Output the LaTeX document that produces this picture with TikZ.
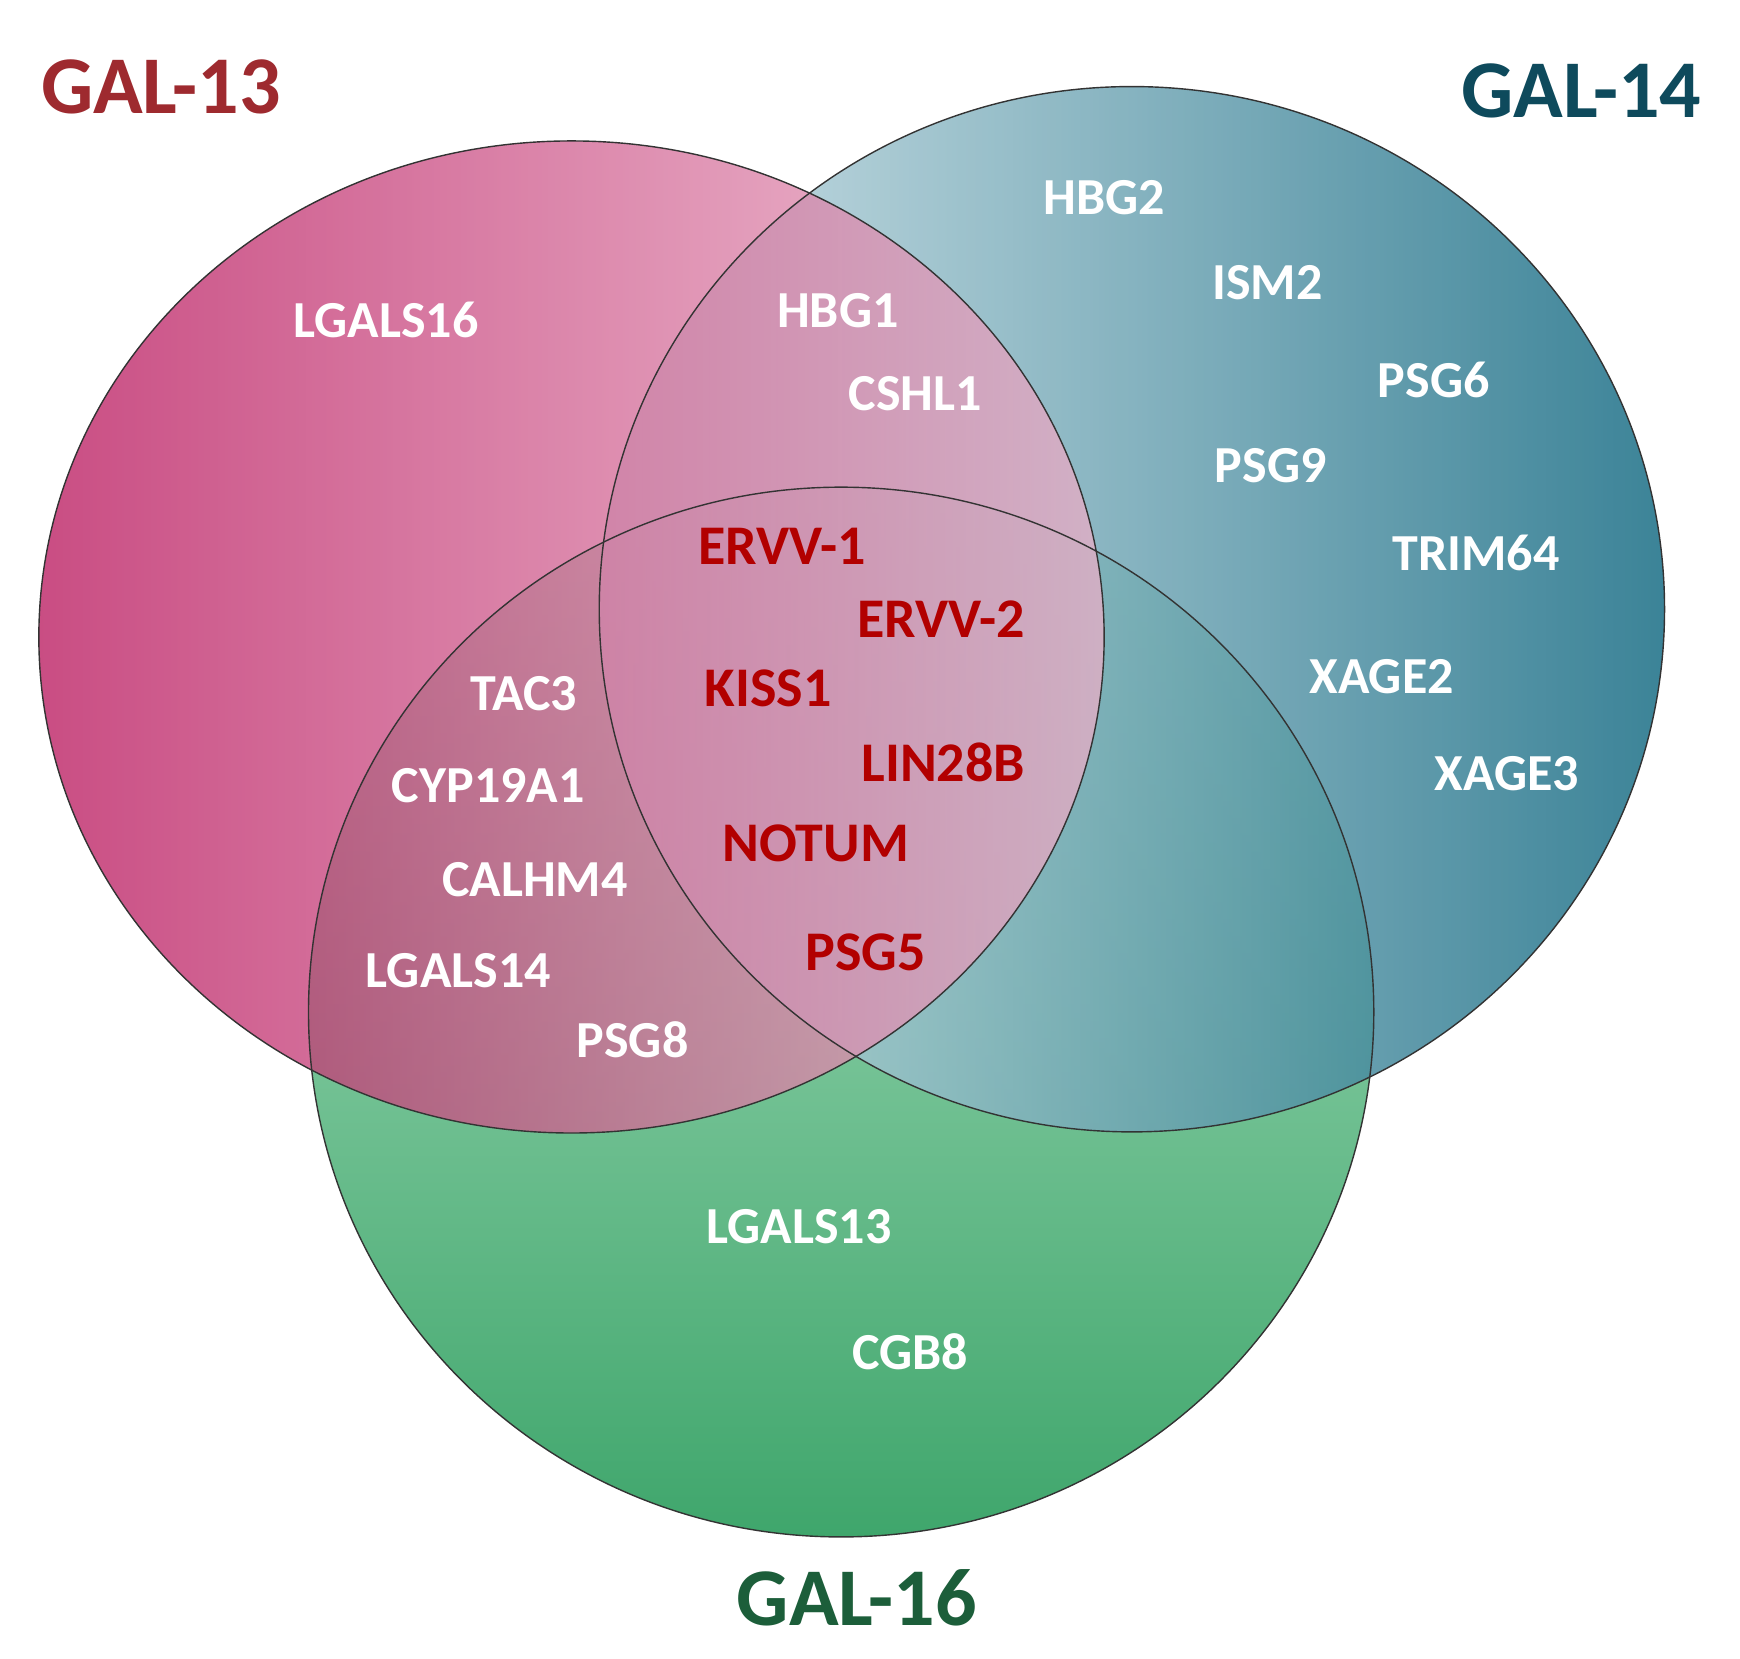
\documentclass[tikz,border=0pt]{standalone}
\usepackage{fontspec}
\setmainfont{Carlito}
\begin{document}
\begin{tikzpicture}[x=1.11pt,y=-1.11pt,
  lab/.style={font=\fontsize{52}{54}\selectfont\bfseries, text=white},
  core/.style={font=\fontsize{56}{58}\selectfont\bfseries, text=red!70!black},
  ttl/.style={font=\fontsize{82}{84}\selectfont\bfseries},
  ring/.style={draw=black!80, line width=1.4pt}]
\useasboundingbox (0,0) rectangle (1568,1495);
\fill[white] (0,0) rectangle (1568,1495);
\definecolor{magD}{HTML}{B8125A}\definecolor{magL}{HTML}{EAB0C8}
\definecolor{tealL}{HTML}{C8DEE4}\definecolor{tealD}{HTML}{1A6E86}
\definecolor{grnL}{HTML}{B4E4C6}\definecolor{grnD}{HTML}{3FA66C}
\definecolor{t13}{HTML}{9E2A2F}\definecolor{t14}{HTML}{0E4A5C}\definecolor{t16}{HTML}{1C5E3A}
% bottom
\shade[top color=grnL, bottom color=grnD] (758,912) ellipse [x radius=480, y radius=473];
% right
\shade[left color=tealL, right color=tealD, fill opacity=0.85] (1020,549) ellipse [x radius=480, y radius=471];
% left
\shade[left color=magD, right color=magL, fill opacity=0.75] (515,574) ellipse [x radius=480, y radius=447];
\draw[ring] (758,912) ellipse [x radius=480, y radius=473];
\draw[ring] (1020,549) ellipse [x radius=480, y radius=471];
\draw[ring] (515,574) ellipse [x radius=480, y radius=447];
\node[ttl, text=t13] (n13) at (145,78) {GAL-13};
\node[ttl, text=t14] (n14) at (1425,82) {GAL-14};
\node[ttl, text=t16] (n16) at (772,1440) {GAL-16};
\node[lab] (a1) at (348,288) {LGALS16};
\node[lab] (a2) at (755,280) {HBG1};
\node[lab] (a3) at (825,355) {CSHL1};
\node[lab] (a4) at (995,178) {HBG2};
\node[lab] (a5) at (1142,255) {ISM2};
\node[lab] (a6) at (1292,342) {PSG6};
\node[lab] (a7) at (1145,420) {PSG9};
\node[lab] (a8) at (1330,498) {TRIM64};
\node[lab] (a9) at (1245,610) {XAGE2};
\node[lab] (a10) at (1358,697) {XAGE3};
\node[lab] (a11) at (472,625) {TAC3};
\node[lab] (a12) at (440,708) {CYP19A1};
\node[lab] (a13) at (482,793) {CALHM4};
\node[lab] (a14) at (413,875) {LGALS14};
\node[lab] (a15) at (570,937) {PSG8};
\node[lab] (a16) at (720,1105) {LGALS13};
\node[lab] (a17) at (820,1218) {CGB8};
\node[core] (b1) at (705,492) {ERVV-1};
\node[core] (b2) at (848,558) {ERVV-2};
\node[core] (b3) at (692,620) {KISS1};
\node[core] (b4) at (850,687) {LIN28B};
\node[core] (b5) at (735,760) {NOTUM};
\node[core] (b6) at (780,858) {PSG5};
\end{tikzpicture}
\end{document}
